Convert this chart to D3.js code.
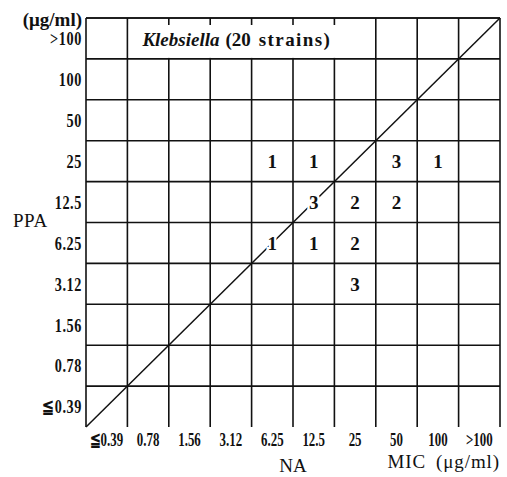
<!DOCTYPE html>
<meta charset="utf-8">
<title>Klebsiella MIC correlation</title>
<style type="text/css">
	body { margin: 0; background: #fff; }
	svg { display: block; }
	.grid line { stroke: #111; stroke-width: 1.6px; }
	.diag { stroke: #111; stroke-width: 1.5px; }
	.tick-label { font-family: "Liberation Serif", serif; font-weight: bold; font-size: 19px; fill: #111; }
	.count { font-family: "Liberation Serif", serif; font-weight: bold; font-size: 19px; fill: #111;
		stroke: #fff; stroke-width: 5px; paint-order: stroke; }
	.axis-title { font-family: "Liberation Serif", serif; font-size: 19px; fill: #111; }
</style>
<body>
<script src="https://d3js.org/d3.v7.min.js"></script>
<script type="text/javascript">
	// MIC steps, lowest to highest
	const naLevels = ['≦0.39', '0.78', '1.56', '3.12', '6.25', '12.5', '25', '50', '100', '>100'];
	const ppaLevels = ['≦0.39', '0.78', '1.56', '3.12', '6.25', '12.5', '25', '50', '100', '>100'];

	// number of strains per cell
	const cellNA = ['6.25', '12.5', '50', '100', '12.5', '25', '50', '6.25', '12.5', '25', '25'];
	const cellPPA = ['25', '25', '25', '25', '12.5', '12.5', '12.5', '6.25', '6.25', '6.25', '3.12'];
	const cellCount = [1, 1, 3, 1, 3, 2, 2, 1, 1, 2, 3];

	const margin = { top: 18, right: 7, bottom: 50, left: 86 };
	const W = 507, H = 477;
	const width = W - margin.left - margin.right;
	const height = H - margin.top - margin.bottom;

	const svg = d3.select('body').append('svg')
		.attr('width', W)
		.attr('height', H);

	const g = svg.append('g')
		.attr('transform', `translate(${margin.left},${margin.top})`);

	const x = d3.scaleBand().domain(naLevels).range([0, width]);
	const y = d3.scaleBand().domain(ppaLevels).range([height, 0]);

	// grid
	const grid = g.append('g').attr('class', 'grid');
	const xEdges = naLevels.map(d => x(d)).concat([width]);
	const yEdges = ppaLevels.map(d => y(d)).concat([0]);

	// title box sits in the top row between 2nd and 7th vertical lines
	const boxL = x('0.78'), boxR = x('25') + x.bandwidth();
	const topRow = y('>100');

	grid.selectAll('line.h').data(yEdges).enter().append('line')
		.attr('class', 'h')
		.attr('x1', 0).attr('x2', width)
		.attr('y1', d => d).attr('y2', d => d);

	grid.selectAll('line.v').data(xEdges).enter().append('line')
		.attr('class', 'v')
		.attr('x1', d => d).attr('x2', d => d)
		.attr('y1', 0).attr('y2', height);

	// blank out the title area, leave short ticks at the top
	g.append('rect')
		.attr('x', boxL + 1.5)
		.attr('y', topRow + 7)
		.attr('width', boxR - boxL - 3)
		.attr('height', y.bandwidth() - 8)
		.attr('fill', '#fff');

	// line of equality
	g.append('line')
		.attr('class', 'diag')
		.attr('x1', 0).attr('y1', height)
		.attr('x2', width).attr('y2', 0);

	// title
	const title = g.append('text')
		.attr('class', 'axis-title')
		.attr('x', x('0.78') + 15)
		.attr('y', topRow + y.bandwidth() / 2 + 1)
		.attr('dy', '0.36em');
	title.append('tspan').attr('font-style', 'italic').attr('font-weight', 'bold').text('Klebsiella');
	title.append('tspan').attr('font-weight', 'bold').attr('dx', 6).text('(20');
	title.append('tspan').attr('font-weight', 'bold').attr('dx', 8).attr('letter-spacing', '1.4px').text('strains)');

	// counts
	const cells = cellCount.map((c, i) => ({ na: cellNA[i], ppa: cellPPA[i], n: c }));
	g.selectAll('text.count').data(cells).enter().append('text')
		.attr('class', 'count')
		.attr('text-anchor', 'middle')
		.attr('x', d => x(d.na) + x.bandwidth() / 2)
		.attr('y', d => y(d.ppa) + y.bandwidth() / 2)
		.attr('dy', '0.36em')
		.text(d => d.n);

	// axis labels, condensed
	g.selectAll('text.ylab').data(ppaLevels).enter().append('text')
		.attr('class', 'tick-label')
		.attr('text-anchor', 'end')
		.attr('letter-spacing', '0.8px')
		.attr('transform', d => `translate(-4,${y(d) + y.bandwidth() / 2}) scale(0.75,1)`)
		.attr('dy', '0.36em')
		.text(d => d);

	g.selectAll('text.xlab').data(naLevels).enter().append('text')
		.attr('class', 'tick-label')
		.attr('text-anchor', 'middle')
		.attr('transform', d => `translate(${x(d) + x.bandwidth() / 2},${height + 12}) scale(0.68,1)`)
		.attr('dy', '0.36em')
		.text(d => d);

	g.append('text')
		.attr('class', 'axis-title')
		.attr('font-weight', 'bold')
		.attr('text-anchor', 'end')
		.attr('x', -4)
		.attr('y', 1)
		.attr('dy', '0.36em')
		.text('(μg/ml)');

	g.append('text')
		.attr('class', 'axis-title')
		.attr('x', -73)
		.attr('y', y('6.25') - 2)
		.attr('dy', '0.36em')
		.attr('letter-spacing', '0.5px')
		.text('PPA');

	g.append('text')
		.attr('class', 'axis-title')
		.attr('text-anchor', 'middle')
		.attr('x', x('12.5'))
		.attr('y', height + 38)
		.attr('dy', '0.36em')
		.text('NA');

	const mic = g.append('text')
		.attr('class', 'axis-title')
		.attr('font-size', '18px')
		.attr('text-anchor', 'end')
		.attr('x', width)
		.attr('y', height + 34)
		.attr('dy', '0.36em')
		.attr('letter-spacing', '0.9px');
	mic.append('tspan').text('MIC');
	mic.append('tspan').attr('dx', 10).text('(μg/ml)');
</script>
</body>
